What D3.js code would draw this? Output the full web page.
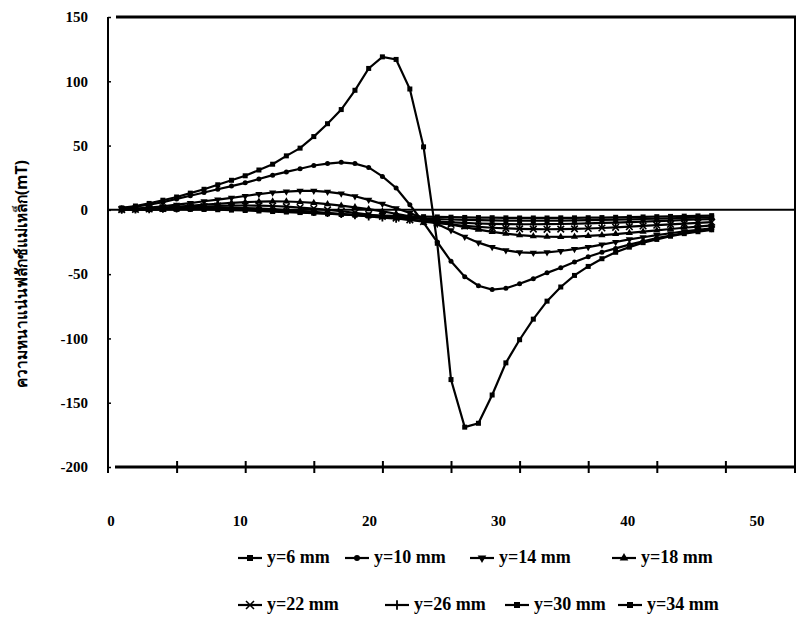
<!DOCTYPE html>
<html>
<head>
<meta charset="utf-8">
<script src="https://cdn.jsdelivr.net/npm/d3@7"></script>
<style>
  body { margin: 0; background: #fff; }
  text { font-family: "Liberation Serif", "DejaVu Serif", serif; font-weight: bold; fill: #000; }
  .ylabel { font-family: "Noto Sans", "DejaVu Sans", sans-serif; }
</style>
</head>
<body>
<script>
// x positions (mm)
const xs = d3.range(1, 45);

const seriesNames = ["y=6 mm", "y=10 mm", "y=14 mm", "y=18 mm", "y=22 mm", "y=26 mm", "y=30 mm", "y=34 mm"];
const markers = ["square", "circle", "triDown", "triUp", "cross", "plus", "square", "square"];

// flux density (mT)
const y6 = [1.5, 3, 5, 7.5, 10, 13, 16, 19.5, 23, 26.5, 31, 35.5, 42, 48, 57, 67, 78, 93, 110, 119, 117, 94,
  49, -26, -132, -169, -166, -144, -119, -101, -85, -71, -60, -51, -44, -38, -33, -29, -25.5, -23, -20.5, -18.5, -17, -15.5];
const y10 = [1.2, 2.5, 4, 6, 8.5, 11, 13.5, 16, 18.5, 21, 24, 27, 29.5, 32, 34.5, 36, 37, 36, 33, 26, 17, 4,
  -10, -25, -40, -52, -59, -62, -61, -57.5, -53.5, -49, -45, -40.5, -36.5, -33, -30, -27, -24.5, -22, -20, -18, -16.5, -15];
const y14 = [0.5, 1, 1.8, 2.8, 4, 5.3, 6.7, 8, 9.3, 10.8, 12.3, 13.5, 14.2, 14.8, 14.8, 14, 12.6, 10.6, 7.8, 4.6, 1.2, -2.5,
  -6.5, -11, -16, -21, -25.5, -29, -31.5, -33, -33.5, -33, -32, -30.5, -29, -27, -25, -23, -21.3, -19.7, -18.2, -16.8, -15.5, -14.3];
const y18 = [0.3, 0.7, 1.2, 1.8, 2.5, 3.2, 4, 4.7, 5.4, 6, 6.4, 6.6, 6.5, 6.1, 5.4, 4.5, 3.3, 2, 0.5, -1.2, -3, -5,
  -7, -9.2, -11.4, -13.5, -15.4, -17.1, -18.5, -19.6, -20.4, -20.9, -21, -20.8, -20.3, -19.6, -18.8, -17.9, -16.9, -15.9, -14.9, -13.9, -13, -12.1];
const y22 = [0.2, 0.4, 0.7, 1.1, 1.6, 2.1, 2.6, 3, 3.3, 3.4, 3.3, 3, 2.5, 1.8, 1, 0, -1.1, -2.3, -3.6, -5, -6.4, -7.8,
  -9.1, -10.3, -11.4, -12.4, -13.2, -13.9, -14.4, -14.8, -15, -15.1, -15, -14.8, -14.5, -14.1, -13.6, -13.1, -12.5, -11.9, -11.3, -10.7, -10.1, -9.6];
const y26 = [0.1, 0.3, 0.5, 0.8, 1.1, 1.4, 1.6, 1.7, 1.6, 1.4, 1, 0.5, -0.1, -0.8, -1.6, -2.4, -3.3, -4.2, -5.1, -6, -6.9, -7.7,
  -8.4, -9.1, -9.7, -10.2, -10.6, -10.9, -11.1, -11.2, -11.2, -11.1, -11, -10.8, -10.5, -10.2, -9.9, -9.5, -9.1, -8.7, -8.3, -7.9, -7.5, -7.2];
const y30 = [0.1, 0.2, 0.3, 0.5, 0.7, 0.8, 0.8, 0.7, 0.5, 0.2, -0.2, -0.7, -1.2, -1.8, -2.4, -3, -3.6, -4.2, -4.8, -5.4, -5.9, -6.4,
  -6.8, -7.2, -7.5, -7.8, -8, -8.2, -8.3, -8.4, -8.4, -8.4, -8.3, -8.2, -8, -7.8, -7.6, -7.4, -7.1, -6.9, -6.6, -6.3, -6, -5.8];
const y34 = [0, 0.1, 0.2, 0.3, 0.4, 0.4, 0.3, 0.1, -0.2, -0.5, -0.9, -1.3, -1.7, -2.1, -2.5, -2.9, -3.3, -3.7, -4.1, -4.4, -4.7, -5,
  -5.3, -5.5, -5.7, -5.9, -6, -6.1, -6.2, -6.3, -6.3, -6.3, -6.2, -6.2, -6.1, -6, -5.8, -5.7, -5.5, -5.3, -5.1, -4.9, -4.7, -4.5];

const xTicks = [0, 10, 20, 30, 40, 50];
const yTicks = [150, 100, 50, 0, -50, -100, -150, -200];
const yTitle = "ความหนาแน่นฟลักซ์แม่เหล็ก(mT)";

const allValues = [y6, y10, y14, y18, y22, y26, y30, y34];
const series = seriesNames.map((name, i) => ({
  name, marker: markers[i],
  points: xs.map((x, j) => ({ x, y: allValues[i][j] }))
}));

const width = 805, height = 627;
const svg = d3.select("body").append("svg").attr("width", width).attr("height", height);

const x = d3.scaleLinear().domain([0, 50]).range([108, 794]);
const y = d3.scaleLinear().domain([-200, 150]).range([467, 17]);
// the printed tick numbers sit on their own, narrower spacing
const xLab = d3.scaleLinear().domain([0, 50]).range([111, 757]);

// frame: left, top, right
svg.append("line").attr("x1", x(0)).attr("x2", x(0)).attr("y1", y(150)).attr("y2", y(-200) + 6)
  .attr("stroke", "#000").attr("stroke-width", 2);
svg.append("line").attr("x1", x(0) + 8).attr("x2", x(50) + 2).attr("y1", y(150)).attr("y2", y(150))
  .attr("stroke", "#000").attr("stroke-width", 3);
svg.append("line").attr("x1", x(50) + 1).attr("x2", x(50) + 1).attr("y1", y(150)).attr("y2", y(-200) + 6)
  .attr("stroke", "#000").attr("stroke-width", 2);

// zero line
svg.append("line").attr("x1", x(0)).attr("x2", x(50)).attr("y1", y(0)).attr("y2", y(0))
  .attr("stroke", "#000").attr("stroke-width", 2);

// bottom axis at -200
const xAxis = svg.append("g").attr("transform", `translate(0,${y(-200)})`)
  .call(d3.axisBottom(x).tickValues(d3.range(5, 50, 5)).tickSize(6).tickFormat(""));
xAxis.select(".domain").remove();
xAxis.selectAll(".tick line").attr("y1", -6).attr("stroke-width", 2);
xAxis.append("line").attr("x1", x(0) + 7).attr("x2", x(50)).attr("stroke", "#000").attr("stroke-width", 3);

svg.append("g").selectAll("text").data(xTicks).join("text")
  .attr("x", d => xLab(d)).attr("y", 526).attr("text-anchor", "middle")
  .style("font-size", "15px").text(d => d);

// left axis ticks and labels
const yAxis = svg.append("g").attr("transform", `translate(${x(0)},0)`)
  .call(d3.axisLeft(y).tickValues(yTicks).tickSize(3).tickPadding(17).tickFormat(d => String(d)));
yAxis.select(".domain").remove();
yAxis.selectAll(".tick line").attr("x2", 3).attr("stroke-width", 1.5);
yAxis.selectAll(".tick text").style("font-size", "15px")
  .style("font-family", "'Liberation Serif', serif").style("font-weight", "bold");

svg.append("text").attr("class", "ylabel")
  .attr("transform", `translate(27,${y(-50)}) rotate(-90)`)
  .attr("text-anchor", "middle").style("font-size", "15.5px").text(yTitle);

// lines
const line = d3.line().x(d => x(d.x)).y(d => y(d.y));
svg.append("g").selectAll("path").data(series).join("path")
  .attr("d", d => line(d.points)).attr("fill", "none").attr("stroke", "#000").attr("stroke-width", 2.2);

function drawMarker(g, type, cx, cy, s) {
  if (type === "square") {
    g.append("rect").attr("x", cx - s / 2).attr("y", cy - s / 2).attr("width", s).attr("height", s).attr("fill", "#000");
  } else if (type === "circle") {
    g.append("circle").attr("cx", cx).attr("cy", cy).attr("r", s / 2).attr("fill", "#000");
  } else if (type === "triDown" || type === "triUp") {
    const sym = d3.symbol().type(d3.symbolTriangle).size(s * s * 0.9);
    g.append("path").attr("d", sym()).attr("fill", "#000")
      .attr("transform", `translate(${cx},${cy}) rotate(${type === "triDown" ? 180 : 0})`);
  } else if (type === "cross") {
    g.append("path").attr("d", d3.symbol().type(d3.symbolX).size(s * s * 1.2)()).attr("stroke", "#000")
      .attr("stroke-width", 1.6).attr("fill", "none").attr("transform", `translate(${cx},${cy})`);
  } else if (type === "plus") {
    g.append("path").attr("d", `M${cx},${cy - s * 0.8}V${cy + s * 0.8}M${cx - s * 0.6},${cy}H${cx + s * 0.6}`)
      .attr("stroke", "#000").attr("stroke-width", 1.8);
  }
}

const mg = svg.append("g");
series.forEach(s => {
  s.points.forEach(p => drawMarker(mg, s.marker, x(p.x), y(p.y), 5));
});

// legend
const legendPos = [[238, 558], [345, 558], [470, 558], [612, 558], [238, 605], [385, 605], [505, 605], [618, 605]];
series.forEach((s, i) => {
  const [lx, ly] = legendPos[i];
  const g = svg.append("g");
  g.append("line").attr("x1", lx).attr("x2", lx + 24).attr("y1", ly).attr("y2", ly)
    .attr("stroke", "#000").attr("stroke-width", 2.2);
  drawMarker(g, s.marker, lx + 12, ly, 6);
  g.append("text").attr("x", lx + 29).attr("y", ly + 5).style("font-size", "18px")
    .text(s.name);
});
</script>
</body>
</html>
